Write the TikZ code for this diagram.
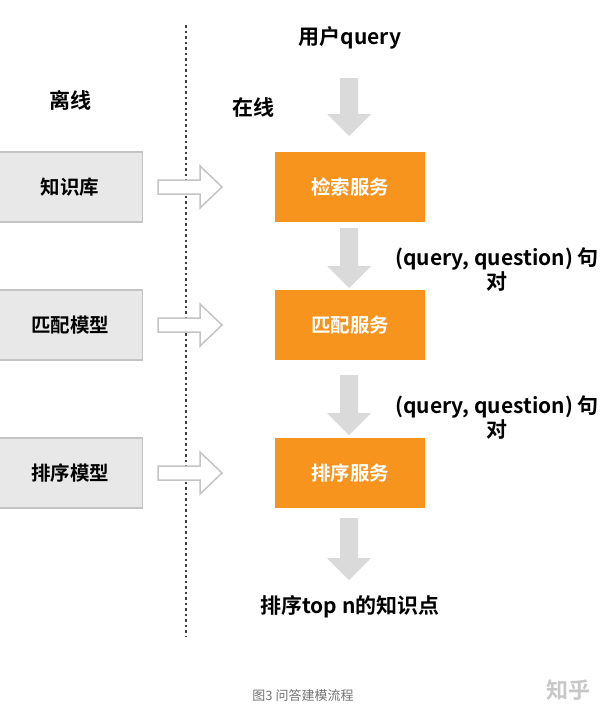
\documentclass[tikz,border=0pt]{standalone}
\usepackage{fontspec}
\setmainfont{Noto Sans CJK SC}[BoldFont={Noto Sans CJK SC Bold}]
\definecolor{og}{HTML}{F7941D}
\definecolor{gb}{HTML}{E8E8E8}
\definecolor{gl}{HTML}{C4C4C4}
\definecolor{ga}{HTML}{DADADA}
\begin{document}
\begin{tikzpicture}[x=1pt,y=-1pt,
 off/.style={draw=gl,fill=gb,line width=1.2pt,minimum width=145pt,minimum height=70pt,font=\bfseries\fontsize{19.5}{22}\selectfont},
 on/.style={fill=og,minimum width=150pt,minimum height=70pt,text=white,font=\bfseries\fontsize{19.5}{22}\selectfont},
 rarr/.style={draw=gl,fill=white,line width=1.5pt,line join=miter},
 darr/.style={fill=ga},
 lab/.style={font=\bfseries\fontsize{21}{24}\selectfont}]
\useasboundingbox[fill=white] (0,0) rectangle (611,712);
\draw[line width=1.8pt,dash pattern=on 2.5pt off 3pt,black!75] (186,25) -- (186,636);
\node[off] (kb) at (70,187) {知识库};
\node[off] (mm) at (70,325) {匹配模型};
\node[off] (rm) at (70,473) {排序模型};
\node[on] (s1) at (350,187) {检索服务};
\node[on] (s2) at (350,325) {匹配服务};
\node[on] (s3) at (350,473) {排序服务};
\foreach \y in {187,325,473}{
 \draw[rarr] (158,\y-7) -- (200,\y-7) -- (200,\y-21) -- (222,\y) -- (200,\y+21) -- (200,\y+7) -- (158,\y+7) -- cycle;}
\foreach \a/\b in {78/136,228/288,375/435,518/580}{
 \fill[darr] (340,\a) -- (358,\a) -- (358,\b-22) -- (371,\b-22) -- (349,\b) -- (327,\b-22) -- (340,\b-22) -- cycle;}
\node[lab] (q) at (350,38) {用户query};
\node[lab] (on) at (253,107) {在线};
\node[lab] (of) at (70,100) {离线};
\node[lab,align=center] (p1) at (497,270) {(query, question) 句\\对};
\node[lab,align=center] (p2) at (497,418) {(query, question) 句\\对};
\node[lab] (top) at (350,607) {排序top n的知识点};
\node[text=black!55,font=\fontsize{13}{15}\selectfont] (cap) at (303,696) {图3 问答建模流程};
\node[text=black!22,font=\bfseries\fontsize{22}{24}\selectfont] (zh) at (568,690) {知乎};
\end{tikzpicture}
\end{document}
